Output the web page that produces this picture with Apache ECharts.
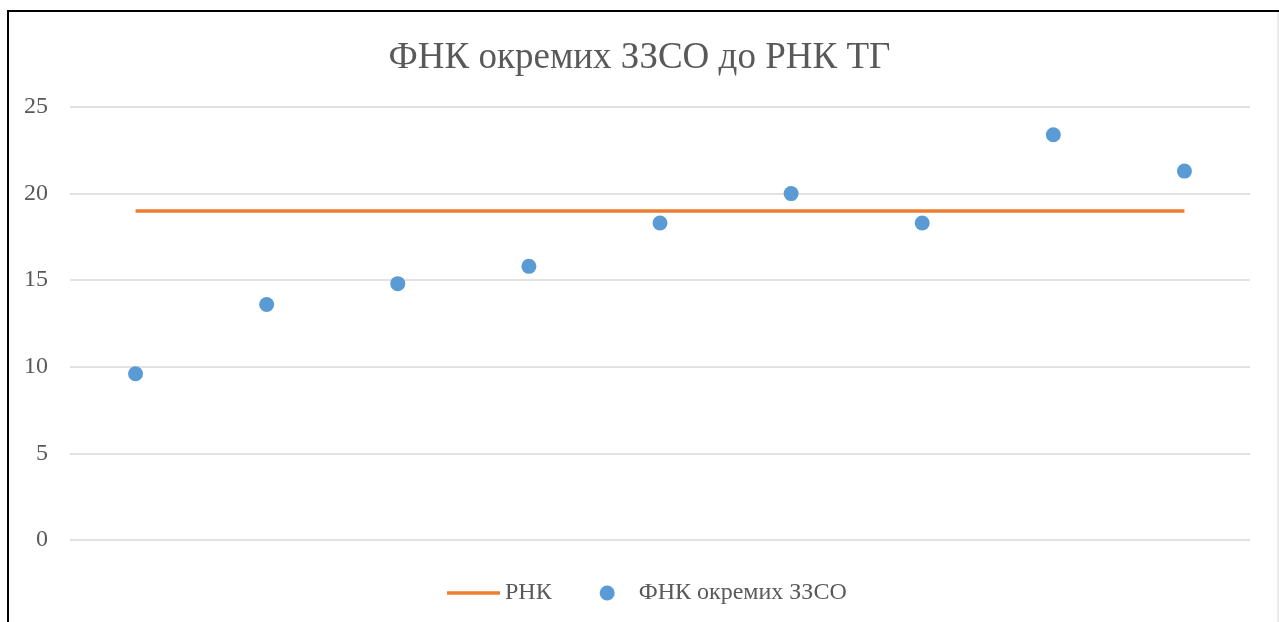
<!DOCTYPE html>
<html><head><meta charset="utf-8">
<script src="https://cdn.jsdelivr.net/npm/echarts@6/dist/echarts.min.js"></script>
<style>html,body{margin:0;padding:0;background:#fff}#c{width:1279px;height:622px}</style>
</head><body><div id="c"></div>
<script>
const titleText = 'ФНК окремих ЗЗСО до РНК ТГ';
const categories = ['1','2','3','4','5','6','7','8','9'];
const rnk = [19,19,19,19,19,19,19,19,19];
const fnk = [9.6,13.6,14.8,15.8,18.3,20.0,18.3,23.4,21.3];
const yTicks = {min:0, max:25, interval:5};
const fontFam = '"Liberation Serif","Times New Roman",serif';
const chart = echarts.init(document.getElementById('c'));
chart.setOption({
  animation:false,
  backgroundColor:'#fff',
  title:{text:titleText,left:'center',top:35,textStyle:{fontFamily:fontFam,fontSize:37,fontWeight:'normal',color:'#595959'}},
  grid:{left:70,right:29,top:107,bottom:82},
  legend:{bottom:12,left:442,itemGap:48,itemWidth:53,itemHeight:15,symbolKeepAspect:true,
    textStyle:{fontFamily:fontFam,fontSize:24,color:'#595959'},
    data:[{name:'РНК',icon:'path://M0,0 L53,0 L53,3.5 L0,3.5 Z',itemStyle:{color:'#ED7D31'}},{name:'ФНК окремих ЗЗСО',icon:'circle'}]},
  xAxis:{type:'category',data:categories,boundaryGap:true,axisLine:{show:false},axisTick:{show:false},axisLabel:{show:false}},
  yAxis:{type:'value',min:yTicks.min,max:yTicks.max,interval:yTicks.interval,
    axisLabel:{fontFamily:fontFam,fontSize:24,color:'#595959',margin:22},
    splitLine:{lineStyle:{color:'#D9D9D9',width:1.5}},axisLine:{show:false},axisTick:{show:false}},
  graphic:[
    {type:'line',shape:{x1:8,y1:11,x2:8,y2:622},style:{stroke:'#000',lineWidth:2}},
    {type:'line',shape:{x1:7,y1:11,x2:1279,y2:11},style:{stroke:'#000',lineWidth:2}},
    {type:'line',shape:{x1:1278,y1:12,x2:1278,y2:622},style:{stroke:'#D9D9D9',lineWidth:1}}
  ],
  series:[
    {name:'РНК',type:'line',data:rnk,symbol:'none',lineStyle:{color:'#ED7D31',width:3.5},itemStyle:{color:'#ED7D31'}},
    {name:'ФНК окремих ЗЗСО',type:'scatter',data:fnk,symbolSize:15,itemStyle:{color:'#5B9BD5',opacity:1}}
  ]
});
</script></body></html>
